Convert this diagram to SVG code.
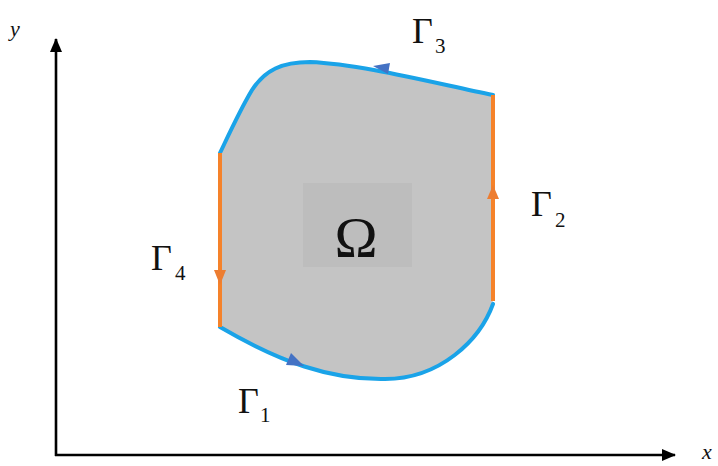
<svg xmlns="http://www.w3.org/2000/svg" width="718" height="466" viewBox="0 0 718 466">
<style>
.ax{stroke:#000;stroke-width:2.6;fill:none}
.blue{stroke:#1AA3E8;stroke-width:4;fill:none;stroke-linecap:round}
.orange{stroke:#F5822A;stroke-width:4;fill:none}
.lbl{font-family:"Liberation Serif","Times New Roman",serif;fill:#111}
.g{font-size:36px}
.s{font-size:21px}
.it{font-style:italic;font-size:22px}
</style>
<defs>
<marker id="ah" markerWidth="14" markerHeight="12" refX="13" refY="6" orient="auto" markerUnits="userSpaceOnUse">
<path d="M0,0 L14,6 L0,12 Z" fill="#000"/>
</marker>
</defs>
<g id="axes">
<line class="ax" x1="56" y1="456" x2="56" y2="39" marker-end="url(#ah)"/>
<line class="ax" x1="55" y1="455" x2="675" y2="455" marker-end="url(#ah)"/>
<text class="lbl it" x="10" y="36">y</text>
<text class="lbl it" x="702" y="459" font-size="20">x</text>
</g>
<g id="omega">
<path d="M220,153 C230,132 240,110 252,90 C265,70 282,62 310,62 C360,64 430,82 493,95 L493,301 C480,340 440,379 385,379 C330,380 280,362 220,327 Z" fill="#C4C4C4"/>
<rect x="303" y="183" width="109" height="84" fill="#BDBDBD"/>
<text class="lbl" x="356" y="257" font-size="58" text-anchor="middle">Ω</text>
</g>
<g id="connectors">
<path id="gamma3" class="blue" d="M220,153 C230,132 240,110 252,90 C265,70 282,62 310,62 C360,64 430,82 493,95"/>
<path id="gamma2" class="orange" d="M493,95 L493,301"/>
<path id="gamma1" class="blue" d="M220,327 C280,362 330,380 385,379 C440,379 480,340 493,304"/>
<path id="gamma4" class="orange" d="M220,153 L220,327"/>
<polygon points="373,66 390,63 388,74" fill="#4472C4"/>
<polygon points="304,366 286,365 291,353" fill="#4472C4"/>
<polygon points="493,185 487,199 499,199" fill="#ED7D31"/>
<polygon points="220,285 214,270 226,270" fill="#ED7D31"/>
</g>
<g id="label-gamma3"><text class="lbl g" x="412" y="43">Γ</text><text class="lbl s" x="435" y="53">3</text></g>
<g id="label-gamma2"><text class="lbl g" x="531" y="216">Γ</text><text class="lbl s" x="555" y="227">2</text></g>
<g id="label-gamma4"><text class="lbl g" x="151" y="270">Γ</text><text class="lbl s" x="175" y="280">4</text></g>
<g id="label-gamma1"><text class="lbl g" x="238" y="413">Γ</text><text class="lbl s" x="260" y="422">1</text></g>
</svg>
